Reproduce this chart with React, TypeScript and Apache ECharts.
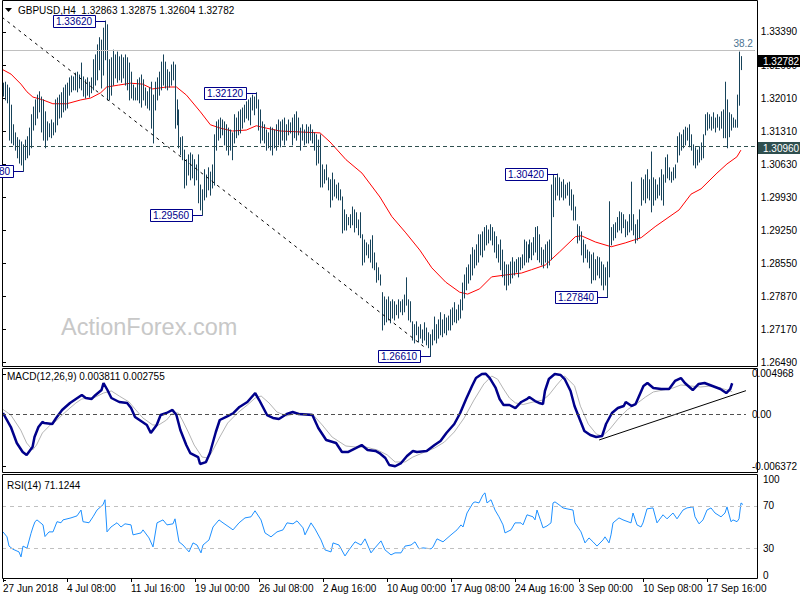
import React, { useEffect, useRef } from "react";
import * as echarts from "echarts";

const symbolName = "GBPUSD,H4";
const lastBarOHLC = [1.32863, 1.32875, 1.32604, 1.32782];
const macdReadout = [0.003811, 0.002755];
const rsiReadout = 71.1244;

const barHigh = [
  1.3232,1.3234,1.3228,1.3222,1.3186,1.3145,1.3128,1.3118,1.3113,1.3109,
  1.3103,1.3113,1.3120,1.3138,1.3166,1.3182,1.3197,1.3207,1.3214,1.3203,
  1.3197,1.3172,1.3151,1.3147,1.3155,1.3149,1.3197,1.3201,1.3207,1.3212,
  1.3222,1.3228,1.3232,1.3243,1.3247,1.3245,1.3253,1.3255,1.3249,1.3274,
  1.3245,1.3239,1.3243,1.3234,1.3243,1.3281,1.3291,1.3312,1.3327,1.3322,
  1.3347,1.3362,1.3354,1.3281,1.3285,1.3301,1.3291,1.3297,1.3287,1.3291,
  1.3285,1.3291,1.3285,1.3274,1.3255,1.3228,1.3222,1.3239,1.3243,1.3249,
  1.3239,1.3222,1.3214,1.3222,1.3234,1.3207,1.3234,1.3243,1.3255,1.3276,
  1.3291,1.3276,1.3260,1.3255,1.3270,1.3276,1.3270,1.3197,1.3176,1.3118,
  1.3120,1.3092,1.3072,1.3082,1.3086,1.3082,1.3072,1.3061,1.3082,1.3019,
  1.3009,1.3051,1.3040,1.3055,1.3046,1.3061,1.3124,1.3151,1.3155,1.3159,
  1.3155,1.3151,1.3145,1.3138,1.3134,1.3128,1.3166,1.3159,1.3172,1.3176,
  1.3180,1.3186,1.3193,1.3197,1.3201,1.3207,1.3203,1.3212,1.3197,1.3176,
  1.3151,1.3145,1.3134,1.3128,1.3140,1.3138,1.3134,1.3145,1.3155,1.3151,
  1.3155,1.3159,1.3145,1.3155,1.3149,1.3159,1.3166,1.3172,1.3159,1.3138,
  1.3145,1.3134,1.3145,1.3140,1.3145,1.3134,1.3128,1.3124,1.3113,1.3124,
  1.3061,1.3051,1.3061,1.3034,1.3030,1.3044,1.3030,1.3019,1.3023,1.3009,
  1.2994,1.2967,1.2957,1.2951,1.2957,1.2973,1.2967,1.2961,1.2946,1.2961,
  1.2915,1.2904,1.2898,1.2894,1.2904,1.2913,1.2877,1.2856,1.2846,1.2831,
  1.2794,1.2785,1.2779,1.2785,1.2775,1.2779,1.2775,1.2768,1.2779,1.2775,
  1.2779,1.2789,1.2825,1.2779,1.2775,1.2733,1.2727,1.2733,1.2722,1.2727,
  1.2716,1.2731,1.2720,1.2710,1.2706,1.2716,1.2743,1.2727,1.2737,1.2752,
  1.2737,1.2748,1.2741,1.2745,1.2758,1.2762,1.2773,1.2758,1.2768,1.2779,
  1.2814,1.2831,1.2846,1.2852,1.2873,1.2888,1.2883,1.2894,1.2915,1.2915,
  1.2921,1.2930,1.2934,1.2925,1.2936,1.2930,1.2921,1.2911,1.2894,1.2904,
  1.2883,1.2858,1.2852,1.2852,1.2858,1.2867,1.2858,1.2863,1.2867,1.2867,
  1.2873,1.2904,1.2900,1.2894,1.2904,1.2898,1.2909,1.2930,1.2932,1.2915,
  1.2888,1.2883,1.2894,1.2900,1.2904,1.3019,1.3040,1.3034,1.3042,1.3034,
  1.3025,1.3030,1.3019,1.3023,1.3025,1.3009,1.2998,1.2973,1.2936,1.2932,
  1.2921,1.2904,1.2894,1.2883,1.2879,1.2873,1.2877,1.2863,1.2869,1.2867,
  1.2858,1.2852,1.2846,1.2858,1.2984,1.2930,1.2936,1.2940,1.2951,1.2963,
  1.2961,1.2957,1.2946,1.2942,1.2957,1.3025,1.2957,1.2936,1.2946,1.2967,
  1.3034,1.3030,1.3040,1.3051,1.3030,1.3088,1.3034,1.3030,1.3019,1.3034,
  1.3051,1.3040,1.3076,1.3082,1.3055,1.3046,1.3055,1.3061,1.3120,1.3128,
  1.3124,1.3134,1.3140,1.3138,1.3145,1.3124,1.3103,1.3097,1.3092,1.3099,
  1.3107,1.3124,1.3166,1.3170,1.3166,1.3161,1.3170,1.3159,1.3166,1.3161,
  1.3172,1.3176,1.3234,1.3197,1.3170,1.3166,1.3159,1.3155,1.3207,1.3297,
  1.32875
];

const barLow = [
  1.3205,1.3197,1.3191,1.3113,1.3107,1.3103,1.3092,1.3076,1.3065,1.3061,
  1.3048,1.3072,1.3076,1.3082,1.3097,1.3134,1.3145,1.3159,1.3172,1.3130,
  1.3113,1.3097,1.3113,1.3120,1.3118,1.3124,1.3130,1.3145,1.3159,1.3161,
  1.3172,1.3176,1.3180,1.3207,1.3214,1.3218,1.3218,1.3214,1.3222,1.3218,
  1.3205,1.3201,1.3207,1.3203,1.3212,1.3218,1.3228,1.3239,1.3260,1.3222,
  1.3249,1.3281,1.3197,1.3197,1.3207,1.3228,1.3243,1.3234,1.3239,1.3234,
  1.3243,1.3228,1.3218,1.3197,1.3201,1.3197,1.3197,1.3197,1.3191,1.3182,
  1.3197,1.3186,1.3180,1.3176,1.3138,1.3107,1.3176,1.3197,1.3207,1.3218,
  1.3228,1.3222,1.3218,1.3224,1.3228,1.3239,1.3138,1.3145,1.3097,1.3082,
  1.3072,1.3013,1.3019,1.3040,1.3030,1.3034,1.3019,1.3030,1.2982,1.2967,
  1.2956,1.2988,1.2994,1.3009,1.2998,1.3013,1.3019,1.3092,1.3113,1.3118,
  1.3124,1.3103,1.3092,1.3082,1.3092,1.3072,1.3107,1.3118,1.3124,1.3128,
  1.3138,1.3151,1.3159,1.3155,1.3145,1.3176,1.3166,1.3180,1.3134,1.3107,
  1.3113,1.3107,1.3092,1.3097,1.3092,1.3082,1.3097,1.3092,1.3103,1.3099,
  1.3113,1.3103,1.3113,1.3124,1.3128,1.3103,1.3118,1.3113,1.3124,1.3092,
  1.3113,1.3103,1.3107,1.3107,1.3113,1.3107,1.3092,1.3061,1.3065,1.3015,
  1.3015,1.3023,1.3030,1.3009,1.2973,1.2988,1.2996,1.2992,1.2988,1.2988,
  1.2919,1.2925,1.2925,1.2936,1.2930,1.2936,1.2921,1.2930,1.2915,1.2909,
  1.2852,1.2858,1.2873,1.2867,1.2858,1.2846,1.2842,1.2816,1.2821,1.2810,
  1.2716,1.2727,1.2733,1.2737,1.2731,1.2741,1.2737,1.2748,1.2741,1.2754,
  1.2748,1.2754,1.2768,1.2737,1.2733,1.2695,1.2689,1.2706,1.2691,1.2699,
  1.2689,1.2695,1.2685,1.2679,1.2661,1.2685,1.2695,1.2689,1.2699,1.2706,
  1.2702,1.2710,1.2706,1.2716,1.2716,1.2727,1.2733,1.2731,1.2737,1.2741,
  1.2758,1.2783,1.2800,1.2814,1.2821,1.2831,1.2846,1.2852,1.2858,1.2873,
  1.2869,1.2883,1.2894,1.2898,1.2904,1.2894,1.2879,1.2867,1.2858,1.2842,
  1.2827,1.2810,1.2800,1.2810,1.2814,1.2825,1.2831,1.2837,1.2827,1.2842,
  1.2846,1.2852,1.2858,1.2858,1.2867,1.2863,1.2873,1.2879,1.2863,1.2858,
  1.2852,1.2846,1.2858,1.2846,1.2852,1.2863,1.2953,1.2988,1.2998,1.2988,
  1.2994,1.2988,1.2992,1.2998,1.2977,1.2967,1.2946,1.2946,1.2898,1.2904,
  1.2873,1.2858,1.2867,1.2858,1.2846,1.2814,1.2821,1.2821,1.2831,1.2825,
  1.2810,1.2800,1.2810,1.2784,1.2827,1.2894,1.2904,1.2909,1.2921,1.2925,
  1.2919,1.2930,1.2911,1.2915,1.2921,1.2925,1.2915,1.2898,1.2904,1.2909,
  1.2977,1.2988,1.2982,1.2992,1.2988,1.2963,1.2977,1.2988,1.2992,1.2998,
  1.2988,1.2977,1.3025,1.3034,1.3030,1.3025,1.3030,1.3034,1.3067,1.3082,
  1.3092,1.3097,1.3103,1.3113,1.3099,1.3092,1.3061,1.3055,1.3061,1.3067,
  1.3072,1.3076,1.3124,1.3134,1.3138,1.3134,1.3138,1.3130,1.3140,1.3134,
  1.3138,1.3118,1.3118,1.3097,1.3120,1.3134,1.3140,1.3140,1.3140,1.3186,
  1.32604
];

// [bar index, value]
const maPoints = [
  [0,1.3260],[4,1.3251],[9,1.3230],[12,1.3214],[15,1.3203],[20,1.3197],[25,1.3189],[32,1.3189],
  [39,1.3197],[44,1.3201],[49,1.3212],[52,1.3224],[58,1.3228],[64,1.3232],[70,1.3230],[75,1.3220],
  [82,1.3224],[87,1.3224],[92,1.3207],[99,1.3172],[104,1.3145],[109,1.3138],[115,1.3132],[122,1.3134],
  [127,1.3143],[132,1.3138],[139,1.3132],[149,1.3130],[159,1.3128],[164,1.3109],[172,1.3072],[180,1.3044],
  [189,1.2994],[195,1.2953],[202,1.2919],[209,1.2883],[215,1.2846],[222,1.2816],[229,1.2795],[233,1.2791],
  [239,1.2802],[245,1.2827],[252,1.2831],[260,1.2835],[265,1.2842],[272,1.2852],[279,1.2879],[287,1.2911],
  [290,1.2913],[297,1.2900],[305,1.2890],[312,1.2898],[320,1.2909],[327,1.2932],[339,1.2967],[345,1.3000],
  [350,1.3011],[358,1.3044],[363,1.3063],[368,1.3078],[370,1.3092]
];

const macdPoints = [
  [0,0.00016],[4,-0.00156],[7,-0.00352],[10,-0.00463],[12,-0.00500],[15,-0.00401],[16,-0.00279],[18,-0.00156],
  [20,-0.00094],[21,-0.00107],[25,-0.00119],[27,-0.00045],[30,0.00053],[34,0.00139],[37,0.00188],[40,0.00237],
  [42,0.00200],[45,0.00188],[47,0.00237],[50,0.00298],[51,0.00384],[53,0.00298],[55,0.00200],[59,0.00151],
  [63,0.00139],[65,0.00077],[67,-0.00033],[70,-0.00082],[73,-0.00131],[75,-0.00229],[78,-0.00131],[80,-0.00009],
  [83,0.00016],[86,0.00053],[88,-0.00009],[90,-0.00193],[93,-0.00377],[95,-0.00475],[99,-0.00524],[100,-0.00610],
  [103,-0.00586],[105,-0.00475],[108,-0.00217],[110,-0.00070],[114,-0.00021],[117,0.00016],[120,0.00090],[124,0.00151],
  [128,0.00261],[130,0.00175],[134,-0.00009],[137,-0.00045],[140,-0.00058],[144,0.00004],[147,0.00028],[150,0.00004],
  [157,-0.00009],[160,-0.00168],[164,-0.00315],[169,-0.00352],[172,-0.00463],[175,-0.00463],[179,-0.00414],[182,-0.00377],
  [185,-0.00438],[189,-0.00450],[191,-0.00475],[194,-0.00536],[196,-0.00622],[199,-0.006372],[202,-0.00598],[205,-0.00512],
  [208,-0.00450],[210,-0.00463],[215,-0.00450],[219,-0.00377],[222,-0.00328],[225,-0.00229],[229,-0.00119],[232,0.00016],
  [235,0.00188],[238,0.00347],[240,0.00445],[243,0.00494],[245,0.004968],[247,0.00445],[250,0.00323],[252,0.00188],
  [254,0.00114],[257,0.00114],[260,0.00077],[263,0.00151],[266,0.00188],[267,0.00212],[270,0.00163],[272,0.00139],
  [274,0.00126],[275,0.00286],[277,0.00433],[280,0.00494],[283,0.00482],[285,0.00433],[288,0.00286],[290,0.00102],
  [293,-0.00082],[295,-0.00205],[298,-0.00254],[301,-0.00279],[304,-0.00266],[306,-0.00119],[309,0.00016],[312,0.00077],
  [315,0.00102],[316,0.00151],[319,0.00102],[321,0.00126],[325,0.00347],[327,0.00384],[330,0.00323],[334,0.00310],
  [338,0.00310],[341,0.00409],[344,0.00445],[346,0.00384],[350,0.00298],[353,0.00372],[356,0.00384],[360,0.00347],
  [364,0.00310],[367,0.00261],[369,0.00310],[370,0.003811]
];

const signalPoints = [
  [0,0.00060],[4,-0.00009],[9,-0.00193],[12,-0.00352],[15,-0.00438],[17,-0.00377],[20,-0.00229],[24,-0.00131],
  [27,-0.00082],[30,-0.00009],[34,0.00077],[37,0.00139],[40,0.00188],[44,0.00200],[47,0.00212],[51,0.00261],
  [55,0.00286],[59,0.00224],[64,0.00151],[67,0.00065],[71,-0.00045],[76,-0.00131],[79,-0.00131],[83,-0.00070],
  [86,0.00016],[89,0.00016],[91,-0.00070],[94,-0.00217],[97,-0.00377],[101,-0.00524],[104,-0.00536],[106,-0.00463],
  [110,-0.00279],[114,-0.00107],[119,0.00016],[124,0.00114],[128,0.00200],[131,0.00224],[135,0.00139],[139,0.00028],
  [144,-0.00021],[149,0.00016],[157,0.00004],[162,-0.00131],[167,-0.00279],[174,-0.00389],[179,-0.00401],[184,-0.00401],
  [190,-0.00438],[195,-0.00499],[199,-0.00585],[204,-0.00585],[208,-0.00524],[214,-0.00463],[219,-0.00414],[224,-0.00340],
  [229,-0.00217],[234,-0.00045],[239,0.00175],[244,0.00372],[248,0.00470],[251,0.00430],[254,0.00310],[257,0.00200],
  [260,0.00140],[264,0.00120],[269,0.00151],[274,0.00175],[277,0.00237],[281,0.00360],[285,0.00470],[290,0.00350],
  [293,0.00100],[297,-0.00120],[301,-0.00240],[304,-0.00270],[308,-0.00180],[312,-0.00060],[317,0.00060],[321,0.00120],
  [326,0.00212],[330,0.00274],[335,0.00298],[340,0.00323],[344,0.00360],[349,0.00347],[354,0.00335],[359,0.00347],
  [364,0.00323],[369,0.00286],[370,0.002755]
];

const rsiPoints = [
  [0,45.4],[2,40.7],[3,32],[5,29],[8,26.5],[9,21.8],[10,32],[12,30],[14,44],[15,50],[16,55],[17,56.7],
  [20,52],[21,41],[23,45.4],[25,45.4],[27,55],[29,54],[30,56.7],[34,58.6],[37,60.5],[39,66],[40,55],[43,54],
  [45,59.6],[47,66],[50,71],[51,75.7],[52,45.4],[54,50],[57,54],[59,50],[61,53],[64,52],[65,42.6],[69,44.4],
  [70,47.3],[73,39.7],[75,31.2],[77,53.9],[80,56.7],[82,52],[85,53],[86,57.7],[88,36],[90,33],[93,26.5],[95,35],
  [97,33],[99,25.6],[100,33],[103,37.8],[105,50],[108,56.7],[110,53.9],[113,50],[115,47.3],[118,53.9],[121,58.6],
  [124,59.6],[126,65.3],[129,56.7],[131,44.4],[134,40.7],[137,45.4],[140,47.3],[142,53.9],[145,53],[147,55.8],
  [150,49.2],[151,42.6],[154,53.9],[156,48.2],[159,37.8],[161,28.4],[164,26.5],[165,35],[168,33],[171,22.7],
  [173,28.4],[176,36],[179,33],[181,38.8],[184,25.6],[186,30.3],[189,36.9],[191,28.4],[194,23.7],[196,25.6],
  [199,25.6],[201,32],[204,33],[206,36],[208,29.4],[210,30.3],[214,29.4],[215,31.2],[217,38.8],[220,36],
  [224,42.6],[227,47.3],[229,52],[230,50],[232,63.2],[235,72.7],[236,73.7],[238,72.7],[240,80.4],[241,82.2],
  [242,72.7],[244,75.7],[246,66],[248,59.6],[250,52],[251,44.4],[254,47.3],[256,53.9],[259,53.9],[260,52],
  [262,61.5],[265,59.6],[266,56.7],[267,66],[269,55],[270,49.2],[272,51],[274,53.9],[275,72.7],[276,73.7],
  [278,71],[280,68],[282,67.1],[285,66],[286,53.9],[289,45.4],[291,35],[293,39.7],[295,36],[297,32],[300,37.8],
  [301,40.7],[303,35],[304,42.6],[305,53.9],[308,58.6],[310,56.7],[314,53.9],[315,63.2],[317,52],[319,50],
  [320,53.9],[322,67.1],[325,68],[327,53.9],[330,61.5],[332,57.7],[335,63.2],[337,57.7],[340,66],[342,68],
  [345,69],[346,59.6],[348,53],[350,56.7],[352,66],[354,68],[356,63.2],[359,59.6],[361,63.2],[362,69],
  [364,55],[365,56.7],[367,55],[368,57.7],[369,72.7],[370,71.1244]
];

const priceTrend = [[-0.5, 1.3370], [212, 1.2678]];
const macdTrend = [[302.5, -0.00315], [377, 0.0029]];
const fibLevel = 1.3316;
const fibText = "38.2";
const supportLevel = 1.3096;
const lastClose = 1.32782;

const priceTicks = [1.2649, 1.2717, 1.2787, 1.2855, 1.2925, 1.2993, 1.3063, 1.3131, 1.3201, 1.3269, 1.3339];
const macdTicks = [-0.006372, 0, 0.004968];
const rsiTicks = [0, 30, 70, 100];
const rsiLevels = [70, 30];
const xTickBars = [0, 32, 64, 96, 128, 160, 192, 224, 256, 288, 320, 352];
const xTickLabels = ["27 Jun 2018", "4 Jul 08:00", "11 Jul 16:00", "19 Jul 00:00", "26 Jul 08:00", "2 Aug 16:00",
  "10 Aug 00:00", "17 Aug 08:00", "24 Aug 16:00", "3 Sep 00:00", "10 Sep 08:00", "17 Sep 16:00"];

const swingLabels = [
  { bar: 51, price: 1.3362 },
  { bar: 10, price: 1.3048 },
  { bar: 100, price: 1.2956 },
  { bar: 127, price: 1.3212 },
  { bar: 214, price: 1.2661 },
  { bar: 278, price: 1.3042 },
  { bar: 303, price: 1.2784 },
];

const FONT = "'Liberation Sans', Arial, sans-serif";
const BAR_COLOR = "#17435a";
const NAVY = "#00008b";

export default function App() {
  const ref = useRef<HTMLDivElement>(null);
  useEffect(() => {
    document.body.style.margin = "0";
    const chart = echarts.init(ref.current as HTMLDivElement, undefined, { renderer: "svg" });
    const L = 2, R = 43;
    const labelBase = { color: "#000", fontSize: 10, fontFamily: FONT };
    const xHidden = (gi: number) => ({
      type: "value", gridIndex: gi, min: -0.5, max: 377, show: false,
      splitLine: { show: false },
    });
    const yAx = (gi: number, min: number, max: number, ticks: number[], fmt: (v: number) => string, extra: any = {}) => ({
      type: "value", gridIndex: gi, position: "right", min, max,
      axisLine: { show: false },
      axisTick: { show: true, customValues: ticks, length: 3, lineStyle: { color: "#000", width: 1 } },
      axisLabel: { ...labelBase, customValues: ticks, formatter: fmt, margin: 6, ...extra },
      splitLine: { show: false },
    });

    const option: any = {
      animation: false,
      backgroundColor: "#fff",
      grid: [
        { left: L, right: R, top: 1, height: 365 },
        { left: L, right: R, top: 368, height: 104 },
        { left: L, right: R, top: 474, height: 106 },
      ],
      xAxis: [
        xHidden(0),
        xHidden(1),
        {
          type: "value", gridIndex: 2, min: -0.5, max: 377, offset: -2,
          axisLine: { show: false },
          axisTick: { show: true, customValues: xTickBars, length: 4, lineStyle: { color: "#000" } },
          axisLabel: {
            ...labelBase, customValues: xTickBars, align: "left", margin: 5,
            formatter: (v: number) => { const k = xTickBars.indexOf(Math.round(v)); return k >= 0 ? xTickLabels[k] : ""; },
          },
          splitLine: { show: false },
        },
      ],
      yAxis: [
        yAx(0, 1.264069, 1.340381, priceTicks, (v: number) => v.toFixed(5)),
        yAx(1, -0.007078, 0.00568, macdTicks, (v: number) => (v === 0 ? "0.00" : v.toFixed(6))),
        yAx(2, 0, 100, rsiTicks, (v: number) => String(v), { verticalAlignMaxLabel: "top", verticalAlignMinLabel: "bottom" }),
      ],
      series: [
        {
          type: "line", name: "MA", xAxisIndex: 0, yAxisIndex: 0, data: maPoints, symbol: "none",
          lineStyle: { color: "#ff0000", width: 1 }, z: 2, silent: true,
          markLine: {
            silent: true, symbol: ["none", "none"],
            data: [
              { yAxis: fibLevel, lineStyle: { color: "#2f4f4f", type: "solid", width: 1 },
                label: { show: true, position: "insideEndTop", formatter: fibText, color: "#4b7391", fontSize: 10, fontFamily: FONT, distance: 2 } },
              { yAxis: lastClose, lineStyle: { color: "#c0c0c0", type: "solid", width: 1 }, label: { show: false } },
              { yAxis: supportLevel, lineStyle: { color: "#2f4f4f", type: [4, 3], width: 1 }, label: { show: false } },
            ],
          },
        },
        {
          type: "custom", name: "bars", xAxisIndex: 0, yAxisIndex: 0, silent: true, z: 3,
          data: barHigh.map((h, i) => [i, barLow[i], h]),
          encode: { x: 0, y: [1, 2] },
          renderItem: (_p: any, api: any) => {
            const i = api.value(0);
            const a = api.coord([i, api.value(1)]);
            const b = api.coord([i, api.value(2)]);
            const x = Math.round(a[0]) + 0.5;
            return { type: "line", shape: { x1: x, y1: a[1] + 0.5, x2: x, y2: b[1] - 0.5 }, style: { stroke: BAR_COLOR, lineWidth: 1 } };
          },
        },
        {
          type: "line", name: "trend", xAxisIndex: 0, yAxisIndex: 0, data: priceTrend, symbol: "none", silent: true,
          lineStyle: { color: "#000", width: 1, type: [3, 4] }, z: 4,
        },
        {
          type: "line", name: "signal", xAxisIndex: 1, yAxisIndex: 1, data: signalPoints, symbol: "none", silent: true,
          lineStyle: { color: "#b4b4b4", width: 1 }, z: 2,
          markLine: {
            silent: true, symbol: ["none", "none"],
            data: [{ yAxis: 0, lineStyle: { color: "#505050", type: [4, 3], width: 1 }, label: { show: false } }],
          },
        },
        {
          type: "line", name: "MACD", xAxisIndex: 1, yAxisIndex: 1, data: macdPoints, symbol: "none", silent: true,
          lineStyle: { color: NAVY, width: 2.5 }, z: 3,
        },
        {
          type: "line", name: "macdTrend", xAxisIndex: 1, yAxisIndex: 1, data: macdTrend, symbol: "none", silent: true,
          lineStyle: { color: "#000", width: 1 }, z: 4,
        },
        {
          type: "line", name: "RSI", xAxisIndex: 2, yAxisIndex: 2, data: rsiPoints, symbol: "none", silent: true,
          lineStyle: { color: "#1e90ff", width: 1 }, z: 3,
          markLine: {
            silent: true, symbol: ["none", "none"],
            data: rsiLevels.map((v) => ({ yAxis: v, lineStyle: { color: "#c0c0c0", type: [4, 4], width: 1 }, label: { show: false } })),
          },
        },
      ],
    };
    chart.setOption(option);

    const px = (gi: number, x: number, y: number) =>
      chart.convertToPixel({ xAxisIndex: gi, yAxisIndex: gi } as any, [x, y]) as number[];
    const font = `10px ${FONT}`;
    const g: any[] = [];
    // panel frames
    [[0.5, 366], [368.5, 104], [474.5, 104]].forEach(([y, h]) =>
      g.push({ type: "rect", silent: true, z: 50, shape: { x: 2.5, y, width: 755, height: h }, style: { fill: "none", stroke: "#000", lineWidth: 1 } })
    );
    // watermark
    g.push({ type: "text", silent: true, z: 0, x: 61, y: 327, style: { text: "ActionForex.com", fill: "#c8c8c8", font: `23.5px ${FONT}`, verticalAlign: "middle" } });
    // headers
    g.push({ type: "polygon", silent: true, z: 60, shape: { points: [[5, 8], [12, 8], [8.5, 12]] }, style: { fill: "#000" } });
    g.push({ type: "text", silent: true, z: 60, x: 18, y: 10, style: { text: `${symbolName}  ${lastBarOHLC.map((v) => v.toFixed(5)).join(" ")}`, fill: "#000", font, verticalAlign: "middle" } });
    g.push({ type: "text", silent: true, z: 60, x: 7, y: 376, style: { text: `MACD(12,26,9) ${macdReadout[0].toFixed(6)} ${macdReadout[1].toFixed(6)}`, fill: "#000", font, verticalAlign: "middle" } });
    g.push({ type: "text", silent: true, z: 60, x: 7, y: 485, style: { text: `RSI(14) ${rsiReadout.toFixed(4)}`, fill: "#000", font, verticalAlign: "middle" } });
    // right axis price boxes
    const box = (price: number, fill: string) => {
      const y = px(0, 0, price)[1];
      g.push({ type: "rect", silent: true, z: 70, shape: { x: 758, y: Math.round(y) - 6, width: 42, height: 12 }, style: { fill } });
      g.push({ type: "text", silent: true, z: 71, x: 763, y: Math.round(y), style: { text: price.toFixed(5), fill: "#fff", font, verticalAlign: "middle" } });
    };
    box(lastClose, "#000");
    box(supportLevel, "#2f4f4f");
    // swing labels
    swingLabels.forEach((s) => {
      const [bx, by] = px(0, s.bar, s.price);
      const yy = Math.round(by) + 0.5;
      const right = Math.round(bx) - 10;
      g.push({ type: "line", silent: true, z: 80, shape: { x1: right, y1: yy, x2: Math.round(bx) + 0.5, y2: yy }, style: { stroke: NAVY, lineWidth: 1 } });
      g.push({ type: "rect", silent: true, z: 81, shape: { x: right - 42 + 0.5, y: Math.round(by) - 6 + 0.5, width: 42, height: 12 }, style: { fill: "#fff", stroke: NAVY, lineWidth: 1 } });
      g.push({ type: "text", silent: true, z: 82, x: right - 21, y: Math.round(by) + 0.5, style: { text: s.price.toFixed(5), fill: NAVY, font, align: "center", verticalAlign: "middle" } });
    });
    chart.setOption({ graphic: g });

    return () => chart.dispose();
  }, []);
  return <div ref={ref} style={{ position: "absolute", left: 0, top: 0, width: 800, height: 600, background: "#fff" }} />;
}
